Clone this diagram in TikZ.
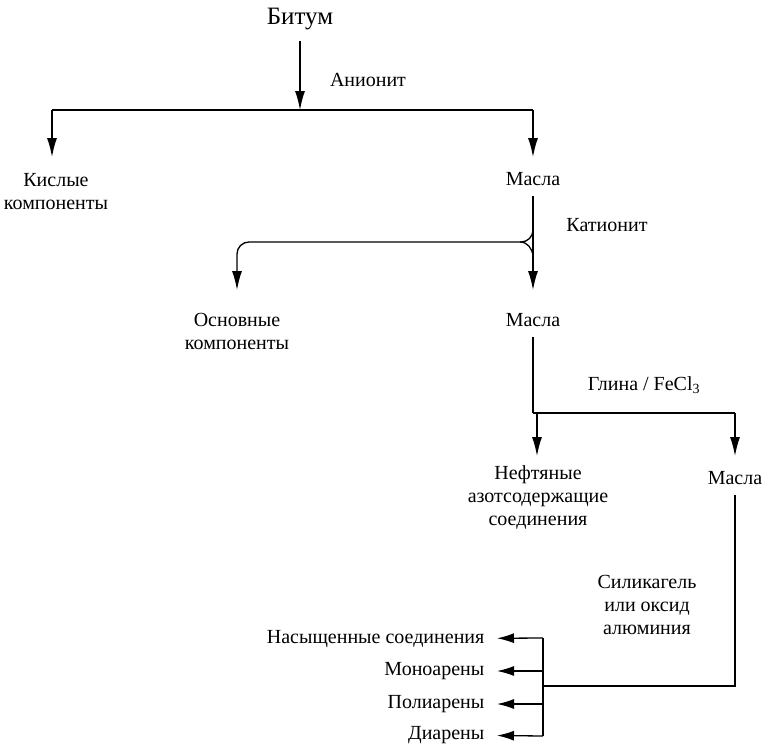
\documentclass[tikz,border=0pt]{standalone}
\usepackage{fontspec}
\setmainfont{Liberation Serif}
\usetikzlibrary{arrows.meta}
\begin{document}
\begin{tikzpicture}[x=1pt,y=-1pt,
  line width=1.3pt,
  lbl/.style={font=\fontsize{20}{23}\selectfont, align=center, inner sep=2pt},
  arr/.style={-{Latex[length=19pt,width=10pt]}},
  harr/.style={-{Latex[length=17pt,width=10pt]}, shorten >=10pt}]
\useasboundingbox (0,0) rectangle (764,747);
% nodes
\node[lbl, font=\fontsize{25}{28}\selectfont] (bit) at (300,19) {Битум};
\node[lbl] (anion) at (368,80) {Анионит};
\node[lbl] (kis) at (56,192) {Кислые\\компоненты};
\node[lbl] (m1) at (533,179) {Масла};
\node[lbl] (kation) at (607,225) {Катионит};
\node[lbl] (osn) at (237,331) {Основные\\компоненты};
\node[lbl] (m2) at (533,320) {Масла};
\node[lbl] (glina) at (644,385) {Глина / FeCl\textsubscript{3}};
\node[lbl] (neft) at (538,497) {Нефтяные\\азотсодержащие\\соединения};
\node[lbl] (m3) at (735,478) {Масла};
\node[lbl] (sil) at (647,605) {Силикагель\\или оксид\\алюминия};
\node[lbl, anchor=east] (nas) at (487,639) {Насыщенные соединения};
\node[lbl, anchor=east] (mono) at (487,671) {Моноарены};
\node[lbl, anchor=east] (poly) at (487,704) {Полиарены};
\node[lbl, anchor=east] (di) at (487,735) {Диарены};
% junctions
\coordinate (j1) at (300,110);
\coordinate (jl) at (52,110);
\coordinate (jr) at (533,110);
\coordinate (t1) at (52,157);
\coordinate (t2) at (533,157);
\coordinate (j2) at (533,242);
\coordinate (t3) at (237,290);
\coordinate (t4) at (533,290);
\coordinate (j3) at (533,413);
\coordinate (j3r) at (735,413);
\coordinate (t5) at (537,456);
\coordinate (t6) at (735,456);
\coordinate (jb) at (543,686);
\coordinate (b1) at (543,638);
\coordinate (b2) at (543,671);
\coordinate (b3) at (543,704);
\coordinate (b4) at (543,736);
% connectors
\draw[arr, shorten <=8pt] (bit) -- (j1);
\draw (jl) -- (jr);
\draw[arr] (jl) -- (t1);
\draw[arr] (jr) -- (t2);
\draw[shorten <=8pt] (m1) -- (j2);
\draw[arr, rounded corners=12pt] (533,220) |- (237,242) -- (t3);
\draw (520,242) to[out=0,in=95] (533,256);
\draw[arr] (j2) -- (t4);
\draw[shorten <=8pt] (m2) -- (j3);
\draw (j3) -- (j3r);
\draw[arr] (537,413) -- (t5);
\draw[arr] (j3r) -- (t6);
\draw[shorten <=8pt] (m3) |- (jb);
\draw (b1) -- (b4);
\draw[harr] (b1) -- (nas);
\draw[harr] (b2) -- (mono);
\draw[harr] (b3) -- (poly);
\draw[harr] (b4) -- (di);
\end{tikzpicture}
\end{document}
